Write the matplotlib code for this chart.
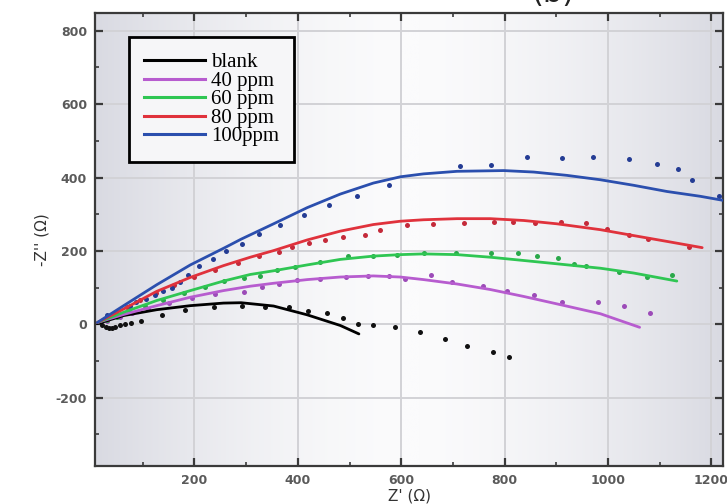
import numpy as np
import matplotlib
matplotlib.use("Agg")
import matplotlib.pyplot as plt
from matplotlib.lines import Line2D
from matplotlib.colors import LinearSegmentedColormap

plt.rcParams["axes.unicode_minus"] = False

# ---------------- data ----------------
labels = ["blank", "40 ppm", "60 ppm", "80 ppm", "100ppm"]

blank_pts_x = [22, 28, 34, 40, 47, 55, 65, 77, 97, 137, 181, 237, 292, 337, 383, 420, 457, 488, 517, 546, 588, 637, 684, 727, 777, 809]
blank_pts_y = [-3, -8, -10, -9, -7, -3, 0, 4, 10, 26, 38, 47, 50, 48, 48, 37, 31, 18, 1, -1, -8, -21, -40, -60, -76, -90]
blank_fit_x = [12, 63, 127, 192, 256, 290, 353, 418, 482, 518]
blank_fit_y = [2, 24, 40, 51, 58, 59, 50, 26, -3, -26]

p40_pts_x = [30, 55, 80, 110, 150, 195, 240, 295, 331, 363, 399, 443, 494, 536, 577, 608, 657, 698, 759, 804, 856, 910, 980, 1031, 1082]
p40_pts_y = [8, 19, 30, 42, 57, 72, 83, 89, 101, 111, 121, 124, 129, 132, 132, 124, 135, 115, 104, 92, 79, 62, 62, 49, 31]
p40_fit_x = [12, 63, 127, 192, 256, 308, 353, 418, 482, 546, 598, 643, 708, 772, 837, 910, 985, 1061]
p40_fit_y = [5, 27, 51, 74, 92, 104, 112, 122, 129, 132, 129, 122, 110, 95, 76, 53, 29, -8]

p60_pts_x = [30, 50, 75, 105, 140, 180, 220, 258, 295, 327, 360, 395, 443, 496, 545, 592, 643, 706, 774, 826, 862, 904, 935, 958, 1022, 1075, 1124]
p60_pts_y = [12, 21, 35, 50, 67, 85, 103, 118, 126, 133, 147, 156, 171, 186, 186, 190, 195, 195, 195, 195, 186, 182, 165, 159, 144, 129, 135]
p60_fit_x = [12, 63, 127, 192, 256, 308, 353, 418, 482, 546, 598, 643, 708, 772, 837, 901, 985, 1049, 1133]
p60_fit_y = [5, 33, 65, 92, 118, 136, 146, 162, 177, 186, 190, 192, 190, 183, 174, 165, 153, 140, 118]

p80_pts_x = [30, 48, 70, 95, 125, 160, 200, 240, 285, 325, 363, 389, 421, 453, 488, 529, 559, 611, 661, 722, 780, 816, 859, 908, 958, 997, 1040, 1078, 1157]
p80_pts_y = [14, 28, 47, 66, 86, 108, 128, 148, 168, 185, 197, 211, 222, 229, 238, 244, 258, 270, 274, 276, 279, 279, 277, 279, 276, 261, 244, 233, 211]
p80_fit_x = [12, 63, 127, 192, 256, 308, 353, 418, 482, 546, 598, 643, 708, 772, 837, 901, 985, 1049, 1114, 1182]
p80_fit_y = [5, 42, 90, 128, 160, 183, 201, 230, 254, 272, 281, 285, 288, 288, 283, 274, 258, 242, 226, 209]

p100_pts_x = [31, 75, 87, 107, 124, 140, 157, 172, 188, 208, 236, 260, 291, 324, 366, 411, 461, 515, 577, 714, 774, 844, 911, 971, 1041, 1095, 1136, 1163, 1214]
p100_pts_y = [26, 51, 60, 70, 79, 90, 99, 115, 135, 160, 179, 200, 218, 247, 270, 297, 326, 351, 379, 432, 435, 456, 453, 456, 450, 436, 424, 392, 349]
p100_fit_x = [12, 63, 127, 192, 260, 290, 353, 418, 482, 546, 598, 643, 708, 798, 856, 920, 985, 1049, 1114, 1178, 1230]
p100_fit_y = [5, 51, 108, 162, 210, 232, 274, 318, 355, 385, 402, 410, 417, 419, 415, 406, 394, 379, 362, 349, 336]

x_ticks = [200, 400, 600, 800, 1000, 1200]
y_ticks = [-200, 0, 200, 400, 600, 800]

# ---------------- figure ----------------
fig = plt.figure(figsize=(7.27, 5.04), dpi=100)
ax = fig.add_axes([0.131, 0.076, 0.864, 0.898])
xlim = (8, 1223)
ylim = (-385, 848)

# background gradient (light grey at edges, white in the middle)
grad = np.abs(np.linspace(-1, 1, 300)) ** 1.6
grad = np.tile(grad, (10, 1))
cmap = LinearSegmentedColormap.from_list("bg", ["#fbfbfc", "#d9dae2"])
ax.imshow(grad, extent=[xlim[0], xlim[1], ylim[0], ylim[1]], aspect="auto",
          cmap=cmap, zorder=0, interpolation="bilinear")

for v in x_ticks:
    ax.axvline(v, color="#d2d2d6", lw=1.4, zorder=1)
for v in y_ticks:
    ax.axhline(v, color="#d2d2d6", lw=1.4, zorder=1)

series = [
    (blank_pts_x, blank_pts_y, blank_fit_x, blank_fit_y, "#000000", "#111111"),
    (p40_pts_x, p40_pts_y, p40_fit_x, p40_fit_y, "#b75ccf", "#9c4bb8"),
    (p60_pts_x, p60_pts_y, p60_fit_x, p60_fit_y, "#2fc653", "#2aa84a"),
    (p80_pts_x, p80_pts_y, p80_fit_x, p80_fit_y, "#e0323c", "#c42a3a"),
    (p100_pts_x, p100_pts_y, p100_fit_x, p100_fit_y, "#2b4fae", "#243c94"),
]
handles = []
for (px, py, fx, fy, lc, mc), lab in zip(series, labels):
    ax.plot(px, py, "o", ms=3.6, color=mc, zorder=3, mec="none")
    ax.plot(fx, fy, "-", lw=2.0, color=lc, zorder=4, solid_capstyle="round")
    handles.append(Line2D([0], [0], color=lc, lw=2.2))

ax.set_xlim(*xlim)
ax.set_ylim(*ylim)
ax.set_xticks(x_ticks)
ax.set_yticks(y_ticks)
ax.set_xticks(np.arange(100, 1201, 200), minor=True)
ax.set_yticks(np.arange(-300, 801, 200), minor=True)
ax.tick_params(which="major", direction="in", length=6, width=1.6, color="#3a3a3a",
               top=True, right=True, labelsize=9, labelcolor="#5a5a5a", pad=6)
ax.tick_params(which="minor", direction="in", length=3, width=1.2, color="#3a3a3a",
               top=True, right=True)
for lbl in ax.get_xticklabels() + ax.get_yticklabels():
    lbl.set_fontweight("bold")
for s in ax.spines.values():
    s.set_color("#3a3a3a")
    s.set_linewidth(1.6)

ax.set_xlabel("Z' (\u03a9)", fontsize=11, color="#333333", labelpad=1)
ax.set_ylabel("-Z'' (\u03a9)", fontsize=11, color="#333333", labelpad=4)

leg = ax.legend(handles, labels, loc="upper left", bbox_to_anchor=(0.053, 0.947),
                prop={"family": "Liberation Serif", "size": 15},
                handlelength=2.9, handletextpad=0.3, labelspacing=-0.05,
                borderpad=0.75, frameon=True, fancybox=False, borderaxespad=0)
leg.get_frame().set_edgecolor("black")
leg.get_frame().set_linewidth(2.0)
leg.get_frame().set_facecolor("#f6f6f8")
leg.get_frame().set_alpha(1)

fig.text(0.76, 1.012, "(b)", ha="center", va="center", fontsize=22, color="#222222")

fig.savefig("out.png", dpi=100)
